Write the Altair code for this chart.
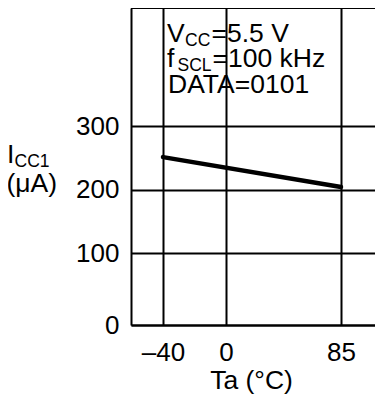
import altair as alt
import pandas as pd

# ---- data ----
temp_c = [-40, 85]          # Ta (°C)
icc1_ua = [251, 204]        # ICC1 (µA)
x_ticks = [-40, 0, 85]
y_ticks = [0, 100, 200, 300]

FONT = "Liberation Sans"
W, H = 244, 317
BIG = 26.5
SUB = 17.5

df = pd.DataFrame({"Ta": temp_c, "ICC1": icc1_ua})

# piecewise scales (the reference is drawn on non-uniform grid spacing)
x_scale = alt.Scale(domain=[-60.3, -40, 0, 85, 110], range=[0, 32, 95, 210, W],
                    nice=False, zero=False)
y_scale = alt.Scale(domain=[0, 100, 200, 300, 486], range=[H, 245, 181.5, 118, 0],
                    nice=False, zero=False)

line = alt.Chart(df).mark_line(color="black", strokeWidth=4.5, strokeCap="round").encode(
    x=alt.X("Ta:Q", scale=x_scale,
            axis=alt.Axis(values=x_ticks, title="Ta (°C)",
                          labelExpr="datum.value < 0 ? '\u2013' + (-datum.value) : '' + datum.value",
                          labelBaseline="top", labelPadding=14,
                          titleX=120, titleY=63, titleBaseline="alphabetic",
                          titleAlign="center", titleAnchor="start")),
    y=alt.Y("ICC1:Q", scale=y_scale,
            axis=alt.Axis(values=y_ticks, title=None, labelPadding=12,
                          labelBaseline="middle")),
)

blank = alt.Data(values=[{}])

def txt(s, x, y, size):
    return alt.Chart(blank).mark_text(
        text=s, align="left", baseline="alphabetic", font=FONT, fontSize=size,
        color="black").encode(x=alt.value(x), y=alt.value(y))

texts = [
    txt("V", 36, 33.5, BIG), txt("CC", 54, 37.5, SUB), txt("=5.5 V", 80.5, 33.5, BIG),
    txt("f", 36, 58.7, BIG), txt("SCL", 46.5, 62.5, SUB), txt("=100 kHz", 81.5, 58.7, BIG),
    txt("DATA=0101", 37, 85.3, BIG),
    txt("I", -124, 154.5, BIG), txt("CC1", -116.5, 159, SUB), txt("(μA)", -124.5, 184, BIG),
]

top_border = alt.Chart(blank).mark_rule(color="black", strokeWidth=2).encode(
    x=alt.value(0), x2=alt.value(W), y=alt.value(0))

chart = alt.layer(line, top_border, *texts).properties(
    width=W, height=H,
    autosize=alt.AutoSizeParams(type="none"),
    padding={"left": 123, "top": 0, "right": 0, "bottom": 72},
).configure_view(stroke=None).configure_axis(
    labelFont=FONT, labelFontSize=26, labelColor="black",
    titleFont=FONT, titleFontSize=BIG, titleColor="black", titleFontWeight="normal",
    grid=True, gridColor="black", gridWidth=2, gridOpacity=1,
    domainColor="black", domainWidth=2, ticks=False, tickSize=0,
)

chart.save("out.html", embed_options={"renderer": "svg", "actions": False})
